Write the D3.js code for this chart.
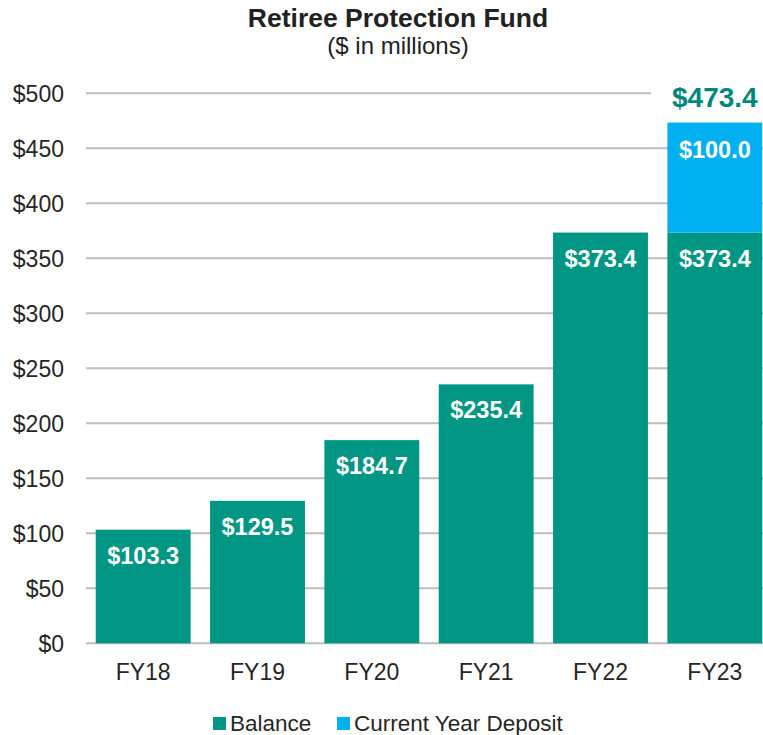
<!DOCTYPE html>
<html lang="en">
<head>
    <meta charset="UTF-8">
    <title>Retiree Protection Fund</title>
    <script src="https://cdn.jsdelivr.net/npm/d3@7"></script>
    <style>
        body { margin: 0; background: #fff; }
        text { font-family: "Liberation Sans", Arial, sans-serif; }
    </style>
</head>
<body>
    <svg id="chart" width="763" height="735"></svg>

    <script>
        // chart data
        var years = ["FY18", "FY19", "FY20", "FY21", "FY22", "FY23"];
        var balance = [103.3, 129.5, 184.7, 235.4, 373.4, 373.4];
        var deposit = [0, 0, 0, 0, 0, 100.0];
        var yTicks = [0, 50, 100, 150, 200, 250, 300, 350, 400, 450, 500];
        var seriesNames = ["Balance", "Current Year Deposit"];
        var seriesColors = ["#009684", "#00B0F0"];

        var svg = d3.select("#chart");
        var fmt = d3.format(".1f");

        var x = d3.scaleBand().domain(years).range([86, 772]).paddingInner(0.17).paddingOuter(0.085);
        var y = d3.scaleLinear().domain([0, 500]).range([643.3, 93.3]);

        // title
        svg.append("text").attr("x", 398).attr("y", 27).attr("text-anchor", "middle")
            .attr("font-size", 26.5).attr("font-weight", "bold").attr("fill", "#222")
            .text("Retiree Protection Fund");
        svg.append("text").attr("x", 398).attr("y", 54).attr("text-anchor", "middle")
            .attr("font-size", 24).attr("fill", "#222")
            .text("($ in millions)");

        // gridlines
        svg.append("g").selectAll("line").data(yTicks).enter().append("line")
            .attr("x1", 86).attr("x2", 763)
            .attr("y1", d => y(d)).attr("y2", d => y(d))
            .attr("stroke", "#bdbdbd").attr("stroke-width", 2);

        // y labels
        svg.append("g").selectAll("text").data(yTicks).enter().append("text")
            .attr("x", 64).attr("y", d => y(d)).attr("dy", "0.36em")
            .attr("text-anchor", "end").attr("font-size", 23).attr("fill", "#262626")
            .text(d => "$" + d);

        // balance bars
        svg.append("g").selectAll("rect").data(years).enter().append("rect")
            .attr("x", d => x(d)).attr("width", x.bandwidth())
            .attr("y", (d, i) => y(balance[i]))
            .attr("height", (d, i) => y(0) - y(balance[i]))
            .attr("fill", seriesColors[0]);

        // deposit bars
        svg.append("g").selectAll("rect").data(years.filter((d, i) => deposit[i] > 0)).enter().append("rect")
            .attr("x", d => x(d)).attr("width", x.bandwidth())
            .attr("y", d => { var i = years.indexOf(d); return y(balance[i] + deposit[i]); })
            .attr("height", d => { var i = years.indexOf(d); return y(balance[i]) - y(balance[i] + deposit[i]); })
            .attr("fill", seriesColors[1]);

        // labels inside bars
        var lbl = svg.append("g").attr("font-size", 23.5).attr("font-weight", "bold")
            .attr("fill", "#fff").attr("text-anchor", "middle");
        years.forEach(function (d, i) {
            lbl.append("text").attr("x", x(d) + x.bandwidth() / 2).attr("y", y(balance[i]) + 34)
                .text("$" + fmt(balance[i]));
            if (deposit[i] > 0) {
                lbl.append("text").attr("x", x(d) + x.bandwidth() / 2).attr("y", y(balance[i] + deposit[i]) + 35)
                    .text("$" + fmt(deposit[i]));
            }
        });

        // totals above stacked bars
        years.forEach(function (d, i) {
            if (deposit[i] > 0) {
                var cx = x(d) + x.bandwidth() / 2;
                var bg = svg.append("rect").attr("fill", "#fff");
                var t = svg.append("text").attr("x", cx).attr("y", 107)
                    .attr("text-anchor", "middle").attr("font-size", 28).attr("font-weight", "bold")
                    .attr("fill", "#00877B").text("$" + fmt(balance[i] + deposit[i]));
                var bb = t.node().getBBox();
                bg.attr("x", bb.x - 21).attr("y", bb.y).attr("width", bb.width + 42).attr("height", bb.height);
            }
        });

        // x labels
        svg.append("g").selectAll("text").data(years).enter().append("text")
            .attr("x", d => x(d) + x.bandwidth() / 2).attr("y", 680)
            .attr("text-anchor", "middle").attr("font-size", 23).attr("fill", "#262626")
            .text(d => d);

        // legend
        var legX = [213, 337];
        var leg = svg.append("g");
        seriesNames.forEach(function (n, i) {
            leg.append("rect").attr("x", legX[i]).attr("y", 717).attr("width", 13).attr("height", 13)
                .attr("fill", seriesColors[i]);
            leg.append("text").attr("x", legX[i] + 17).attr("y", 731).attr("font-size", 22.5)
                .attr("fill", "#262626").text(n);
        });
    </script>
</body>
</html>
